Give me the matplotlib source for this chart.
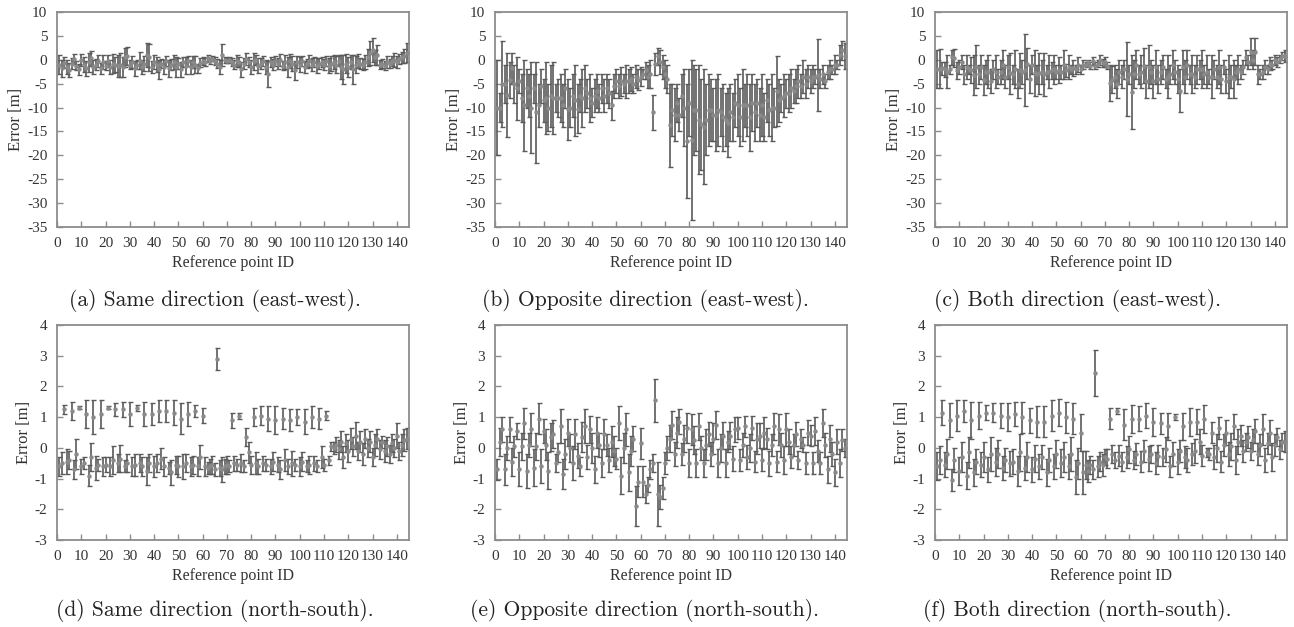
import matplotlib
matplotlib.use("Agg")
import matplotlib.pyplot as plt

plt.rcParams['axes.unicode_minus'] = False

ids = list(range(1, 145))

# (a) Same direction (east-west)
a_mean = [-1.0, -1.8, -0.6, -1.5, -2.2, -0.8, 0.2, -1.2, -2.0, 0.0, -1.0, -1.8,
          -0.5, 0.3, -1.5, -1.0, -0.2, -1.8, -0.5, -1.2, -0.3, -1.5, -0.8, -1.0,
          -1.2, -1.0, -1.5, 0.5, 0.8, -1.0, -0.5, -1.8, -1.0, -0.2, -1.5, -0.8,
          1.0, 0.5, -1.5, -0.5, -1.0, -2.0, -0.8, -1.5, -0.3, -1.8, -1.0, -0.5,
          -1.5, -0.8, -2.0, -0.5, -1.2, -0.2, -1.5, -0.5, -1.0, -1.8, -0.6, -0.3,
          -0.5, 0.3, -0.2, 0.2, -0.3, -0.8, -1.5, 1.0, 0.0, -0.2, 0.0, -0.5,
          -1.0, -0.3, -0.5, -2.0, -0.8, 0.2, -0.5, -1.5, -0.3, 0.0, -1.2, -0.8,
          -0.2, -1.5, -3.0, -0.5, -1.0, -0.3, -0.8, 0.0, -1.2, -0.5, -1.5, -0.3,
          -0.8, -2.2, -0.5, -1.0, -0.2, -1.5, -0.8, -0.3, -1.0, -0.5, -1.2, -0.8,
          -0.5, -1.0, -0.3, -1.2, -0.8, -0.5, -1.0, -0.2, -1.5, -2.0, -0.8, -1.5,
          -0.5, -2.0, -1.0, -0.3, -0.8, -1.0, -0.5, 0.5, 1.5, 2.0, 0.5, 1.0,
          -1.0, -0.8, -1.2, -0.5, -0.8, -0.3, 0.0, -0.5, 0.2, 0.5, 0.8, 1.5]
a_err = [2.0, 1.8, 1.2, 1.5, 1.5, 1.2, 1.0, 1.0, 1.2, 1.2, 1.5, 1.6,
         2.0, 1.5, 1.5, 1.2, 1.3, 1.2, 1.5, 1.0, 1.2, 1.5, 2.0, 1.5,
         2.3, 2.5, 2.0, 2.0, 1.8, 1.0, 1.2, 1.5, 1.0, 1.8, 1.5, 1.5,
         2.5, 2.8, 1.2, 1.5, 1.5, 2.0, 1.0, 1.5, 1.0, 1.8, 1.2, 1.5,
         2.0, 1.2, 1.5, 1.0, 1.8, 1.0, 1.5, 1.2, 1.8, 1.0, 1.0, 0.8,
         0.8, 0.8, 0.6, 0.5, 0.8, 1.0, 1.5, 2.3, 0.6, 0.5, 0.6, 0.8,
         1.0, 1.2, 1.0, 1.5, 1.2, 1.3, 1.0, 1.5, 1.8, 1.0, 1.5, 1.2,
         1.0, 1.5, 2.7, 1.0, 1.2, 1.0, 1.2, 1.2, 1.0, 1.5, 2.0, 1.5,
         1.5, 2.0, 1.2, 1.5, 1.0, 1.2, 1.0, 1.2, 1.3, 1.0, 1.5, 1.2,
         1.0, 1.2, 1.0, 1.5, 1.5, 1.5, 1.8, 1.2, 2.5, 3.0, 2.0, 2.0,
         1.5, 3.0, 1.8, 1.5, 1.2, 1.2, 1.5, 1.8, 2.5, 2.5, 1.5, 2.0,
         1.0, 1.0, 1.0, 1.2, 1.0, 1.0, 1.5, 1.2, 1.0, 1.2, 1.5, 2.0]

# (b) Opposite direction (east-west)
b_mean = [-10, -10, -5, -5, -7.3, -4.2, -1.8, -5, -6, -4.5, -8, -9.5,
          -6, -7.5, -10, -6, -11, -9.5, -5.5, -8.5, -8, -10, -7.5, -8,
          -8, -8, -8, -9.5, -6, -10.4, -10, -7.5, -8.5, -10.2, -7.5, -8,
          -6, -7, -8, -9, -7.5, -6.5, -8, -6, -7.5, -6, -7, -9.5,
          -5.5, -4.5, -5.5, -4.5, -5, -4.5, -4.5, -4, -5, -3.5, -4.2, -3.5,
          -3, -2.2, -3.5, -3, -11, -0.8, 0.7, -0.5, -1.5, -3, -4, -13.7,
          -10.5, -11.5, -9, -11.5, -7.5, -10, -17, -9, -16.8, -10.5, -10.5, -12.5,
          -13.5, -14, -12.5, -10.5, -10.5, -11.5, -11.5, -10.5, -11, -12, -12.5, -13.2,
          -11, -12, -9, -9.5, -12, -9.5, -9.5, -9.5, -12, -9, -11, -9,
          -11.5, -9.5, -12, -8.5, -10.5, -10, -10, -6.6, -8.5, -8, -7.5, -7,
          -7, -6, -6.5, -5.5, -4.5, -5.5, -3.5, -5, -3.5, -4.5, -3.5, -3.5,
          -3.2, -4, -3, -4.5, -2.5, -2, -2, -1, -1, 1, 2, 0.8]
b_err = [10, 3, 9, 4, 8.8, 3.8, 3.3, 4, 6.6, 2.5, 5, 9.5,
         4, 4.5, 9.5, 3, 10.5, 4.5, 3.5, 4.5, 7.5, 5, 6.5, 7.5,
         3, 4, 5, 4.5, 4, 6.4, 4, 4.5, 7.5, 5.2, 3.5, 6,
         5, 3, 5, 3, 3.5, 3.5, 3, 3, 3.5, 3, 3, 3,
         2.5, 2.5, 2.5, 3, 2, 3.5, 2.5, 2.5, 2, 2.5, 2.2, 2,
         1, 1.8, 2.5, 3, 3.7, 2.3, 1.8, 2.5, 2.5, 3, 3, 8.7,
         5.5, 5.5, 4, 3.5, 4.5, 8, 12, 7, 16.8, 9.5, 8.5, 11.5,
         9.5, 12, 7.5, 7.5, 6.5, 5.5, 7.5, 7.5, 5, 7, 5.5, 7.2,
         6, 5, 5, 6.5, 6, 7.5, 4.5, 6.5, 7, 6, 6, 5,
         5.5, 6.5, 5, 4.5, 5.5, 7, 4, 7.3, 4.5, 3, 4.5, 3,
         4, 4, 2.5, 3.5, 3.5, 2.5, 3.5, 3, 2.5, 2.5, 2.5, 1.5,
         7.5, 2, 2, 1.5, 1.5, 2, 1, 2, 1, 2, 2, 2.7]

# (c) Both direction (east-west)
c_mean = [-2, -1.9, -1.8, -2, -2.5, -2, 0.5, 0.3, -2.2, -1.5, -0.5, -3,
          -1.5, -2, -2.2, -3.2, -1.5, -3, -1.5, -4.2, -2.5, -2.5, -4.5, -2,
          -2.5, -3.5, -2.5, -1, -3.5, -1.5, -2.8, -3, -2, -5, -2.2, -2.5,
          -2.2, -0.8, -4, -1, -2.8, -3, -2.8, -2.5, -3, -2.5, -2.5, -2.2,
          -2, -2.5, -2.2, -2.5, -1, -2.2, -1.5, -2, -1.7, -2, -1, -2,
          -1, -1, -0.5, -1.2, -0.3, -1.2, -0.8, 0, -0.7, -0.5, -1.2, -4.8,
          -4.2, -3.5, -5, -2.5, -3.5, -2, -4, -3, -6.7, -3, -1, -3,
          -2.5, -1.2, -4.5, -1.5, -2.5, -4.5, -1.5, -4, -2.5, -1.5, -4, -3.5,
          -3, -1, -2.5, -4, -6.5, -1.5, -3.5, -1, -3, -3, -3.5, -2,
          -2, -2, -3, -2.5, -3.5, -3.5, -2, -3.5, -1.5, -4, -1.5, -4.5,
          -3.5, -3.5, -4, -2.5, -2, -2.5, -1.5, 0.5, -0.5, 1.7, 0, 1.7,
          -3, -3, -2.5, -1.5, -2, -0.8, -1, 0, -0.5, 0.2, 0.8, 0.8]
c_err = [4, 4.1, 1.3, 1.5, 3.5, 1, 1.5, 1.9, 1.8, 1.5, 1.5, 2,
         2.5, 1, 2.7, 4.2, 4.5, 2, 2.5, 3.2, 2.5, 3.5, 2.5, 2,
         3.5, 1.5, 2.5, 3, 2.5, 2.5, 4.3, 2, 4, 3, 3.7, 2.5,
         7.5, 3.2, 3, 2, 4.8, 2, 4.3, 2.5, 4.5, 1.5, 3.5, 1.8,
         3, 1.5, 2.7, 1.5, 3, 1.3, 2.5, 1, 1.7, 1, 1.5, 1,
         1, 0.5, 0.5, 0.8, 0.8, 0.8, 0.8, 1, 0.8, 1, 0.8, 3.8,
         2.8, 2.5, 3, 2.5, 2.5, 2, 7.7, 2, 7.7, 3, 3, 2,
         3.5, 3.7, 3.5, 4.5, 2.5, 3.5, 3.5, 3, 2.5, 2.5, 2, 4.5,
         2, 3, 2.5, 3, 4.5, 3.5, 3.5, 3, 2, 4, 2.5, 3,
         2, 4, 2, 3.5, 1.5, 4.5, 2, 2.5, 3.5, 3, 1.5, 2.5,
         4.5, 2.5, 4, 1.5, 3, 1.5, 1.5, 1.5, 1.5, 2.8, 2, 2.8,
         2, 1, 1.5, 1.5, 1, 1.3, 1, 1, 1, 0.8, 0.8, 1.2]

# (d) Same direction (north-south)
d_mean = [-0.6, -0.5, 1.25, -0.45, -0.4, 1.2, -0.7, -0.2, 1.3, -0.6, -0.5, 1.1,
          -0.9, -0.3, 1.0, -0.65, -0.55, 1.1, -0.6, -0.55, 1.3, -0.6, -0.4, 1.25,
          -0.5, -0.35, 1.25, -0.6, -0.5, 1.1, -0.6, -0.55, 1.3, -0.5, -0.6, 1.1,
          -0.75, -0.5, 1.1, -0.6, -0.5, 1.2, -0.35, -0.6, 1.2, -0.65, -0.8, 1.15,
          -0.55, -0.6, 0.95, -0.6, -0.5, 1.1, -0.6, -0.55, 1.2, -0.6, -0.3, 1.05,
          -0.6, -0.65, -0.6, -0.55, -0.7, 2.9, -0.65, -0.7, -0.6, -0.55, -0.6, 0.9,
          -0.5, -0.55, 1.03, -0.5, -0.6, 0.35, -0.15, -0.55, 1.0, -0.5, -0.6, 1.05,
          -0.5, -0.55, 0.95, -0.6, -0.45, 0.9, -0.55, -0.7, 0.95, -0.4, -0.6, 0.9,
          -0.5, -0.55, 1.0, -0.6, -0.45, 0.85, -0.6, -0.55, 1.0, -0.5, -0.6, 0.95,
          -0.3, -0.55, 1.05, -0.4, 0.05, 0.0, 0.1, -0.05, 0.2, -0.3, 0.15, -0.1,
          0.3, 0.05, 0.4, -0.1, 0.2, -0.2, 0.3, 0.0, 0.2, -0.3, 0.1, 0.3,
          -0.05, 0.2, -0.1, 0.05, -0.2, 0.15, 0.0, 0.4, -0.1, 0.1, 0.25, 0.3]
d_err = [0.3, 0.35, 0.15, 0.4, 0.3, 0.3, 0.3, 0.5, 0.05, 0.25, 0.2, 0.45,
         0.35, 0.45, 0.55, 0.4, 0.2, 0.45, 0.3, 0.25, 0.05, 0.3, 0.45, 0.2,
         0.3, 0.45, 0.25, 0.2, 0.3, 0.4, 0.3, 0.35, 0.1, 0.3, 0.3, 0.4,
         0.45, 0.3, 0.35, 0.35, 0.3, 0.35, 0.35, 0.3, 0.35, 0.2, 0.4, 0.4,
         0.3, 0.35, 0.5, 0.4, 0.3, 0.4, 0.3, 0.3, 0.2, 0.3, 0.4, 0.25,
         0.3, 0.2, 0.25, 0.3, 0.2, 0.35, 0.25, 0.4, 0.25, 0.3, 0.2, 0.25,
         0.25, 0.2, 0.1, 0.3, 0.2, 0.3, 0.35, 0.3, 0.3, 0.35, 0.25, 0.3,
         0.25, 0.2, 0.4, 0.25, 0.3, 0.45, 0.25, 0.3, 0.35, 0.35, 0.25, 0.35,
         0.4, 0.2, 0.25, 0.3, 0.3, 0.4, 0.2, 0.3, 0.35, 0.25, 0.2, 0.35,
         0.35, 0.2, 0.15, 0.15, 0.15, 0.2, 0.25, 0.3, 0.35, 0.35, 0.3, 0.35,
         0.35, 0.3, 0.45, 0.3, 0.35, 0.35, 0.3, 0.3, 0.35, 0.3, 0.35, 0.3,
         0.3, 0.2, 0.35, 0.3, 0.3, 0.3, 0.3, 0.4, 0.3, 0.35, 0.35, 0.35]

# (e) Opposite direction (north-south)
e_mean = [-0.7, 0.2, 0.6, -0.7, 0.0, 0.6, -0.45, 0.05, 0.55, -0.7, 0.05, 0.8,
          -0.75, 0.1, 0.6, -0.65, 0.05, 0.95, -0.6, 0.55, 0.1, -0.75, 0.35, 0.45,
          -0.5, -0.15, 0.7, -0.85, -0.2, 0.5, 0.0, -0.5, 0.45, -0.25, -0.6, 0.35,
          0.7, -0.3, 0.6, 0.0, -0.7, 0.5, 0.1, -0.5, 0.45, 0.1, -0.4, 0.2,
          -0.1, -0.35, 0.8, -0.9, 0.0, 0.6, -0.8, -0.1, 0.3, -1.9, -1.1, 0.15,
          -1.1, -1.5, -1.2, -0.7, -0.5, 1.55, -1.5, -1.6, -1.3, -0.5, 0.0, 0.3,
          0.75, -0.2, 0.5, 0.85, -0.2, 0.3, 0.65, -0.5, 0.6, 0.25, -0.5, 0.7,
          0.0, -0.5, 0.1, 0.45, -0.2, 0.3, 0.75, -0.5, 0.0, 0.4, -0.5, 0.2,
          0.4, -0.35, 0.6, 0.65, -0.4, 0.1, 0.7, -0.3, 0.0, 0.65, -0.45, 0.3,
          0.4, -0.4, 0.5, 0.3, -0.5, 0.1, 0.7, -0.45, 0.6, 0.1, -0.4, 0.6,
          0.2, -0.3, 0.1, 0.45, -0.4, 0.3, 0.1, -0.5, 0.5, 0.4, -0.5, 0.55,
          -0.1, -0.5, 0.8, 0.1, -0.7, 0.3, -0.2, -0.8, 0.2, -0.5, 0.25, 0.0]
e_err = [0.35, 0.45, 0.4, 0.5, 0.4, 0.4, 0.45, 0.35, 0.25, 0.55, 0.45, 0.5,
         0.55, 0.4, 0.55, 0.6, 0.45, 0.5, 0.55, 0.4, 0.5, 0.6, 0.45, 0.45,
         0.3, 0.3, 0.55, 0.5, 0.5, 0.45, 0.45, 0.55, 0.5, 0.4, 0.3, 0.5,
         0.55, 0.4, 0.45, 0.5, 0.45, 0.5, 0.4, 0.45, 0.5, 0.35, 0.4, 0.5,
         0.5, 0.35, 0.55, 0.6, 0.5, 0.55, 0.6, 0.5, 0.4, 0.65, 0.5, 0.5,
         0.5, 0.3, 0.25, 0.3, 0.3, 0.7, 1.05, 0.4, 0.35, 0.35, 0.4, 0.45,
         0.45, 0.4, 0.5, 0.4, 0.35, 0.45, 0.5, 0.45, 0.5, 0.45, 0.45, 0.45,
         0.4, 0.45, 0.5, 0.4, 0.4, 0.5, 0.45, 0.45, 0.45, 0.45, 0.45, 0.35,
         0.45, 0.4, 0.4, 0.35, 0.35, 0.4, 0.35, 0.4, 0.45, 0.4, 0.35, 0.5,
         0.4, 0.35, 0.5, 0.35, 0.4, 0.35, 0.45, 0.35, 0.5, 0.4, 0.45, 0.55,
         0.4, 0.35, 0.35, 0.4, 0.3, 0.3, 0.25, 0.35, 0.4, 0.35, 0.35, 0.45,
         0.35, 0.35, 0.45, 0.4, 0.45, 0.45, 0.4, 0.45, 0.4, 0.45, 0.35, 0.3]

# (f) Both direction (north-south)
f_mean = [-0.6, -0.4, 1.15, -0.55, -0.2, 0.9, -1.05, -0.4, 1.05, -0.75, -0.3, 1.2,
          -0.9, -0.15, 0.9, -0.8, -0.45, 1.05, -0.55, -0.3, 1.15, -0.7, -0.2, 1.15,
          -0.45, -0.2, 1.05, -0.65, -0.4, 1.0, -0.5, -0.45, 1.1, -0.75, -0.15, 1.0,
          -0.65, -0.3, 0.9, -0.7, -0.35, 0.85, -0.6, -0.3, 0.85, -0.8, -0.4, 1.05,
          -0.6, -0.2, 1.15, -0.5, -0.3, 1.0, -0.6, -0.2, 0.95, -0.95, -0.5, 0.5,
          -0.8, -0.55, -0.75, -0.55, -0.7, 2.45, -0.6, -0.45, -0.55, -0.3, -0.35, 0.95,
          -0.2, -0.4, 1.2, -0.25, -0.45, 0.75, -0.3, -0.05, 0.95, -0.4, -0.2, 0.95,
          -0.45, -0.1, 1.05, -0.35, -0.2, 0.85, -0.5, -0.25, 0.8, -0.3, -0.05, 0.7,
          -0.6, -0.2, 1.0, -0.45, -0.1, 0.7, -0.3, -0.4, 0.85, -0.2, -0.1, 0.85,
          0.2, -0.25, 0.95, -0.15, -0.2, 0.5, -0.3, 0.0, 0.65, -0.45, 0.1, 0.5,
          -0.2, 0.05, 0.7, -0.4, 0.2, 0.4, -0.1, 0.2, 0.35, -0.1, 0.25, 0.55,
          -0.2, 0.1, 0.6, -0.4, 0.15, 0.5, -0.3, 0.1, 0.35, -0.05, 0.2, 0.2]
f_err = [0.45, 0.45, 0.4, 0.4, 0.5, 0.55, 0.35, 0.4, 0.5, 0.45, 0.5, 0.35,
         0.45, 0.5, 0.6, 0.45, 0.4, 0.45, 0.4, 0.5, 0.25, 0.4, 0.55, 0.3,
         0.45, 0.45, 0.4, 0.4, 0.4, 0.45, 0.4, 0.4, 0.4, 0.5, 0.6, 0.5,
         0.4, 0.5, 0.4, 0.4, 0.45, 0.5, 0.4, 0.4, 0.5, 0.45, 0.4, 0.5,
         0.4, 0.45, 0.45, 0.45, 0.5, 0.5, 0.4, 0.55, 0.5, 0.55, 0.5, 0.6,
         0.7, 0.45, 0.35, 0.3, 0.3, 0.75, 0.35, 0.3, 0.35, 0.25, 0.3, 0.35,
         0.3, 0.25, 0.1, 0.35, 0.3, 0.5, 0.35, 0.45, 0.45, 0.3, 0.35, 0.4,
         0.35, 0.35, 0.4, 0.4, 0.3, 0.45, 0.35, 0.35, 0.35, 0.3, 0.4, 0.45,
         0.35, 0.4, 0.1, 0.4, 0.35, 0.45, 0.35, 0.4, 0.45, 0.35, 0.4, 0.4,
         0.4, 0.35, 0.45, 0.15, 0.2, 0.35, 0.4, 0.45, 0.35, 0.35, 0.35, 0.4,
         0.4, 0.45, 0.4, 0.45, 0.4, 0.35, 0.35, 0.3, 0.35, 0.3, 0.35, 0.4,
         0.35, 0.35, 0.5, 0.4, 0.35, 0.4, 0.45, 0.35, 0.3, 0.3, 0.3, 0.35]

captions = ["(a) Same direction (east-west).", "(b) Opposite direction (east-west).",
            "(c) Both direction (east-west).", "(d) Same direction (north-south).",
            "(e) Opposite direction (north-south).", "(f) Both direction (north-south)."]
xticks = list(range(0, 141, 10))
ew_yticks = list(range(-35, 11, 5))
ns_yticks = list(range(-3, 5, 1))

W, H = 1294, 627
fig = plt.figure(figsize=(W / 100, H / 100), dpi=100)

lefts = [57, 495, 935]
width = 352
tops = [12, 325]
height = 215

panels = [(a_mean, a_err), (b_mean, b_err), (c_mean, c_err),
          (d_mean, d_err), (e_mean, e_err), (f_mean, f_err)]
serif = 'Liberation Serif'
spine_col = '#8c8c8c'

for i, (m, e) in enumerate(panels):
    row, col = divmod(i, 3)
    l = lefts[col]
    t = tops[row]
    ax = fig.add_axes([l / W, 1 - (t + height) / H, width / W, height / H])
    ax.errorbar(ids, m, yerr=e, fmt='o', ms=2.2, color='#5c5c5c', mfc='#8a8a8a', mec='#8a8a8a',
                ecolor='#5a5a5a', elinewidth=1.2, capsize=1.8, capthick=1.0)
    ax.set_xlim(0, 145)
    if row == 0:
        ax.set_ylim(-35, 10)
        ax.set_yticks(ew_yticks)
    else:
        ax.set_ylim(-3, 4)
        ax.set_yticks(ns_yticks)
    ax.set_xticks(xticks)
    ax.tick_params(direction='in', length=4, width=1, color=spine_col,
                   labelsize=11, pad=7, labelcolor='#333333')
    ax.tick_params(axis='x', pad=7)
    for lab in ax.get_xticklabels() + ax.get_yticklabels():
        lab.set_fontfamily(serif)
    for sp in ax.spines.values():
        sp.set_color(spine_col)
        sp.set_linewidth(1.3)
    ax.set_ylabel("Error [m]", fontfamily=serif, fontsize=12, color='#333333', labelpad=2)
    ax.set_xlabel("Reference point ID", fontfamily=serif, fontsize=11.5, color='#333333', labelpad=4)
    cx = [215, 645, 1077][col]
    cy = [300, 611][row]
    fig.text(cx / W, 1 - cy / H, captions[i], ha='center', va='center',
             fontfamily='cmr10', fontsize=15.5, color='#222222')

fig.savefig("out.png", dpi=100)
